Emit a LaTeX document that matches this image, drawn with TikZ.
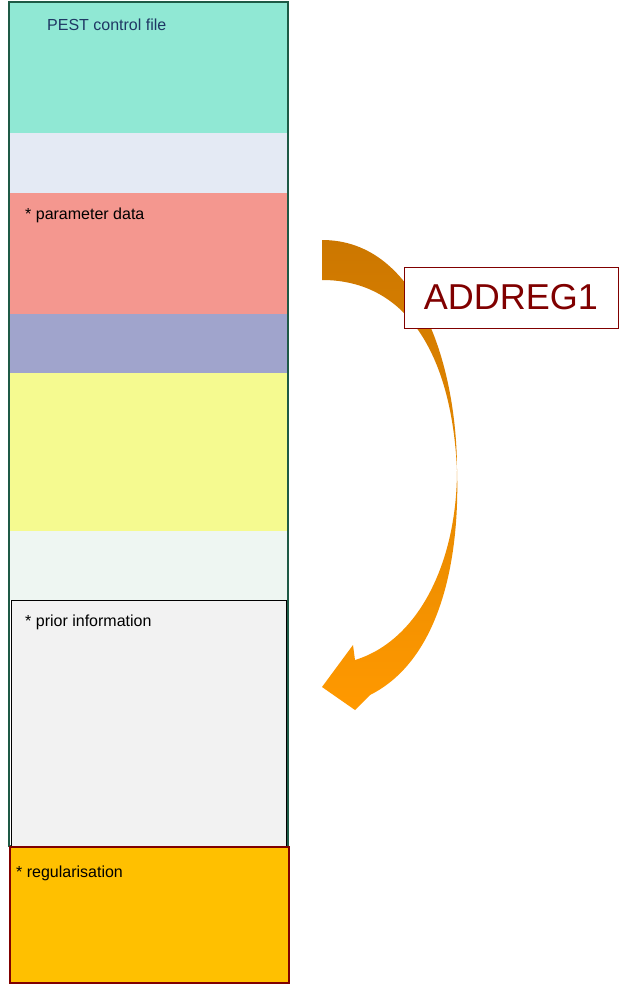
\documentclass[tikz,border=0pt]{standalone}
\usepackage{fontspec}
\setmainfont{Liberation Sans}
\usetikzlibrary{positioning}
\definecolor{teal1}{HTML}{90E8D4}
\definecolor{grey1}{HTML}{E4EAF4}
\definecolor{salmon1}{HTML}{F4978F}
\definecolor{violet1}{HTML}{A0A4CC}
\definecolor{yellow1}{HTML}{F5FA90}
\definecolor{mint1}{HTML}{EEF6F2}
\definecolor{prior1}{HTML}{F2F2F2}
\definecolor{reg1}{HTML}{FFC000}
\definecolor{darkred1}{HTML}{800000}
\definecolor{frame1}{HTML}{1E5A46}
\definecolor{navy1}{HTML}{1F3864}
\definecolor{orangetop}{HTML}{CC7700}
\definecolor{orangebot}{HTML}{FF9900}
\begin{document}
\begin{tikzpicture}[x=1pt,y=-1pt]
\tikzstyle{label} = [anchor=west, font=\fontsize{16}{18}\selectfont, inner sep=0pt]
\tikzstyle{prog} = [draw=darkred1, fill=white, text=darkred1, font=\fontsize{36}{40}\selectfont,
minimum width=214pt, minimum height=61pt]
\useasboundingbox (0,0) rectangle (624,984);
% layers of the control file
\fill[teal1] (10,3) rectangle (287,133);
\fill[grey1] (10,133) rectangle (287,193);
\fill[salmon1] (10,193) rectangle (287,314);
\fill[violet1] (10,314) rectangle (287,373);
\fill[yellow1] (10,373) rectangle (287,531);
\fill[mint1] (10,531) rectangle (287,600);
\draw[frame1, line width=1.5pt] (9,2) rectangle (288,846);
\draw[black, fill=prior1] (11,600) rectangle (286,846);
\draw[darkred1, fill=reg1, line width=1.5pt] (10,847) rectangle (289,983);
% section labels
\node[label, text=navy1] (title) at (47,25) {PEST control file};
\node[label] (pardata) at (25,215) {* parameter data};
\node[label] (prior) at (25,622) {* prior information};
\node[label] (reg) at (16,873) {* regularisation};
% curved arrow
\shade[top color=orangetop, bottom color=orangebot]
 (322,240) .. controls (420,240) and (457,370) .. (457,470)
 .. controls (457,560) and (420,640) .. (355,660) -- (353,645) -- (322,687)
 -- (355,710) -- (370,695) .. controls (440,660) and (460,560) .. (457,470)
 .. controls (452,360) and (410,280) .. (322,280) -- cycle;
\node[prog] (addreg) at (511,297.5) {ADDREG1};
\end{tikzpicture}
\end{document}
